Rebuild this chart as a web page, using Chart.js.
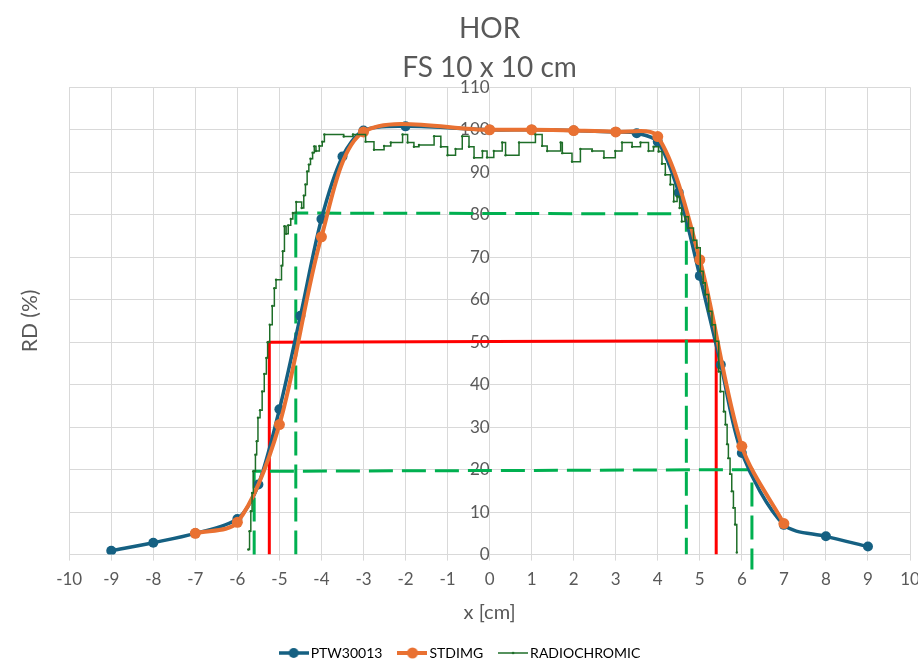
<!DOCTYPE html>
<html>
<head>
<meta charset="utf-8">
<script src="https://cdn.jsdelivr.net/npm/chart.js@4.4.1/dist/chart.umd.min.js"></script>
<style>
  html, body { margin: 0; background: #fff; }
</style>
</head>
<body>
<canvas id="chart" width="918" height="672"></canvas>
<script>
// PTW30013 chamber profile
const ptw_x = [-9, -8, -7, -6, -5.5, -5, -4.5, -4, -3.5, -3, -2, 0, 1, 2, 3, 3.5, 4, 4.5, 5, 5.5, 6, 7, 8, 9];
const ptw_y = [0.9, 2.8, 5.0, 8.4, 16.5, 34.2, 56.2, 79.0, 93.7, 99.8, 100.8, 100, 100, 99.8, 99.5, 99.2, 97.2, 85.2, 65.6, 44.7, 23.9, 7.0, 4.3, 1.9];

// STDIMG profile
const std_x = [-7, -6, -5, -4, -3, 0, 1, 2, 3, 4, 5, 6, 7];
const std_y = [5.0, 7.6, 30.6, 74.8, 99.5, 100, 100, 99.8, 99.5, 98.4, 69.4, 25.5, 7.3];

// radiochromic film scan
const rc_x = [-5.74, -5.71, -5.68, -5.65, -5.62, -5.57, -5.54, -5.51, -5.46, -5.41, -5.36, -5.31, -5.28, -5.23, -5.17,
  -5.12, -5.08, -4.95, -4.92, -4.88, -4.84, -4.79, -4.73, -4.68, -4.60, -4.47, -4.42, -4.38, -4.34, -4.30, -4.26,
  -4.21, -4.17, -4.13, -4.05, -3.98, -3.93, -3.47, -3.25, -2.95, -2.75, -2.51, -2.35, -2.07, -1.95, -1.80, -1.68,
  -1.32, -1.16, -1.00, -0.81, -0.65, -0.49, -0.37, -0.17, -0.06, 0.10, 0.30, 0.38, 0.70, 1.09, 1.25, 1.37, 1.69,
  1.73, 1.96, 2.16, 2.44, 2.72, 2.99, 3.15, 3.39, 3.59, 3.78, 3.90, 4.02, 4.10, 4.18, 4.30, 4.38, 4.46, 4.52, 4.57,
  4.65, 4.73, 4.85, 4.93, 5.01, 5.08, 5.13, 5.21, 5.29, 5.37, 5.45, 5.49, 5.57, 5.61, 5.65, 5.68, 5.72, 5.76, 5.80,
  5.84, 5.88];
const rc_y = [1.2, 5.5, 10.2, 14.5, 19.6, 23.5, 26.7, 32.2, 34.0, 38.4, 42.5, 46.3, 50.0, 54.1, 58.5,
  62.7, 64.7, 68.0, 71.4, 77.3, 75.5, 77.5, 79.0, 80.4, 83.0, 81.6, 84.5, 87.1, 90.2, 91.8, 93.2,
  94.6, 96.1, 95.0, 96.2, 97.2, 98.9, 98.4, 98.9, 97.2, 95.3, 96.2, 97.0, 98.9, 97.0, 96.0, 96.4,
  98.5, 96.0, 94.0, 95.5, 98.5, 96.0, 93.4, 95.0, 93.5, 95.0, 97.0, 94.0, 97.0, 98.9, 96.2, 95.0, 97.0,
  94.5, 92.5, 95.5, 95.0, 93.4, 95.0, 97.0, 96.0, 97.0, 95.0, 96.0, 94.9, 92.0, 89.4, 87.1, 83.1, 84.3, 81.6, 78.4,
  79.5, 76.9, 74.0, 72.2, 66.7, 64.0, 61.2, 57.3, 54.1, 50.2, 43.1, 38.4, 33.7, 30.6, 26.0, 22.7, 19.0, 14.9, 11.0,
  7.1, 0.5];

// field size markers (50 %, 80 %, 20 %)
const fwhm_x = [-5.24, -5.24, 5.39, 5.39];
const fwhm_y = [0, 50.0, 50.35, 0];
const p80_x = [-4.61, -4.61, 4.68, 4.68];
const p80_y = [0, 80.4, 80.2, 0];
const p20_x = [-5.6, -5.6, 6.24, 6.24];
const p20_y = [0, 19.6, 20.0, -3.5];

const BLUE = '#156082';
const ORANGE = '#E97132';
const DKGREEN = '#1E6E28';
const GREEN = '#00B050';
const RED = '#FF0000';
const TXT = '#595959';
const GRID = '#d9d9d9';

function pts(xs, ys) {
    return xs.map((x, i) => ({x: x, y: ys[i]}));
}

function legend_icon(color, lw, r) {
    const c = document.createElement('canvas');
    c.width = 30;
    c.height = 12;
    const g = c.getContext('2d');
    g.strokeStyle = color;
    g.lineWidth = lw;
    g.beginPath();
    g.moveTo(0, 6);
    g.lineTo(30, 6);
    g.stroke();
    g.fillStyle = color;
    g.beginPath();
    g.arc(15, 6, r, 0, Math.PI * 2);
    g.fill();
    return c;
}

Chart.defaults.font.family = 'Lato, "Open Sans", sans-serif';
Chart.defaults.color = TXT;

const icons = [legend_icon(BLUE, 3.5, 5), legend_icon(ORANGE, 4, 5.5), legend_icon(DKGREEN, 1.5, 1.3)];

new Chart(document.getElementById('chart'), {
    type: 'line',
    data: {
        datasets: [{
            label: 'PTW30013',
            data: pts(ptw_x, ptw_y),
            borderColor: BLUE,
            backgroundColor: BLUE,
            borderWidth: 3.5,
            pointRadius: 5,
            pointBorderWidth: 0,
            tension: 0.3,
            order: 2
        }, {
            label: 'STDIMG',
            data: pts(std_x, std_y),
            borderColor: ORANGE,
            backgroundColor: ORANGE,
            borderWidth: 4,
            pointRadius: 5.5,
            pointBorderWidth: 0,
            tension: 0.3,
            order: 1
        }, {
            label: 'RADIOCHROMIC',
            data: pts(rc_x, rc_y),
            borderColor: DKGREEN,
            backgroundColor: DKGREEN,
            borderWidth: 1.5,
            pointRadius: 1.2,
            pointBorderWidth: 0,
            stepped: true,
            order: 0
        }, {
            label: '50%',
            data: pts(fwhm_x, fwhm_y),
            borderColor: RED,
            borderWidth: 3,
            pointRadius: 0,
            order: 5
        }, {
            label: '80%',
            data: pts(p80_x, p80_y),
            borderColor: GREEN,
            borderWidth: 3,
            borderDash: [24, 9],
            pointRadius: 0,
            order: 4
        }, {
            label: '20%',
            data: pts(p20_x, p20_y),
            borderColor: GREEN,
            borderWidth: 3,
            borderDash: [24, 9],
            pointRadius: 0,
            clip: false,
            order: 3
        }]
    },
    options: {
        responsive: false,
        animation: false,
        layout: {padding: {left: 14, right: 8, top: 0, bottom: 6}},
        plugins: {
            title: {
                display: true,
                fullSize: false,
                text: ['HOR', 'FS 10 x 10 cm'],
                color: TXT,
                font: {size: 28, weight: 'normal', lineHeight: 1.38},
                padding: {top: 10, bottom: 0}
            },
            legend: {
                position: 'bottom',
                maxHeight: 40,
                labels: {
                    usePointStyle: true,
                    pointStyleWidth: 20,
                    padding: 20,
                    color: TXT,
                    font: {size: 14},
                    generateLabels: (chart) => chart.data.datasets.slice(0, 3).map((ds, i) => ({
                        text: ds.label,
                        pointStyle: icons[i],
                        fillStyle: ds.borderColor,
                        strokeStyle: ds.borderColor,
                        lineWidth: 0,
                        hidden: false,
                        datasetIndex: i
                    }))
                }
            },
            tooltip: {enabled: false}
        },
        scales: {
            x: {
                type: 'linear',
                min: -10,
                max: 10,
                ticks: {stepSize: 1, autoSkip: false, font: {size: 17}, padding: 9, color: TXT},
                grid: {color: GRID, tickLength: 6},
                border: {color: GRID},
                title: {display: true, text: 'x [cm]', font: {size: 20}, color: TXT, padding: {top: 2, bottom: 1}},
                afterFit: (s) => { s.paddingLeft = 0; s.paddingRight = 0; }
            },
            y: {
                type: 'linear',
                position: {x: 0},
                min: 0,
                max: 110,
                ticks: {stepSize: 10, font: {size: 17}, padding: 8, color: TXT},
                grid: {color: GRID, drawTicks: false},
                border: {display: false}
            },
            yTitle: {
                type: 'linear',
                position: 'left',
                display: true,
                min: 0,
                max: 1,
                ticks: {display: false},
                grid: {display: false, drawTicks: false},
                border: {display: false},
                title: {display: true, text: 'RD (%)', font: {size: 21}, color: TXT, padding: {top: 4, bottom: 26}}
            }
        }
    }
});
</script>
</body>
</html>
